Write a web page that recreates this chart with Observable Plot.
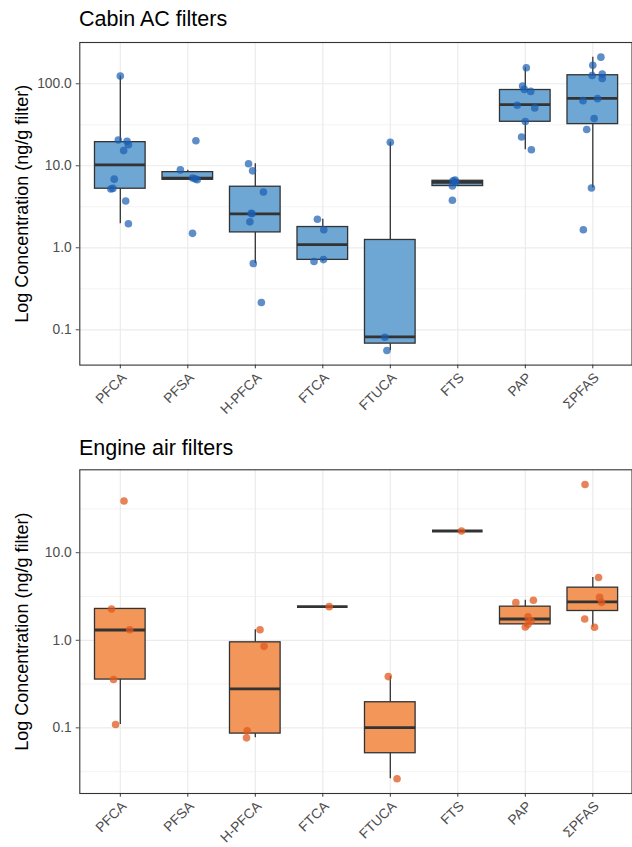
<!DOCTYPE html>
<html><head><meta charset="utf-8">
<script src="https://cdn.jsdelivr.net/npm/d3@7"></script>
<script src="https://cdn.jsdelivr.net/npm/@observablehq/plot@0.6"></script>
<style>
body{margin:0;background:#fff;font-family:"Liberation Sans",Arial,sans-serif;}
.title{height:32px;box-sizing:border-box;font-size:21.5px;line-height:21.5px;padding-left:79px;color:#000;white-space:nowrap;}
svg{display:block;}
</style></head><body>
<div id="chart"></div>
<script>
// ---- categories and tick labels ----
const categories = ["PFCA","PFSA","H-PFCA","FTCA","FTUCA","FTS","PAP","ΣPFAS"];
const yTicks = [0.1, 1, 10, 100];
const yMinorTicks = [0.0316, 0.316, 3.162, 31.62, 316.2];
const yLabel = "Log Concentration (ng/g filter)";

// ---- Cabin AC filters: points (ng/g filter) and jitter (category units) ----
const cabinValues = [
  [124, 20.6, 19.9, 18.1, 15.3, 6.87, 5.3, 5.2, 3.72, 1.96],
  [20.2, 8.9, 7.1, 6.93, 6.75, 1.5],
  [10.6, 8.67, 4.79, 2.64, 2.6, 2.07, 0.643, 0.215],
  [2.23, 1.66, 0.718, 0.679],
  [19.3, 0.081, 0.056],
  [6.7, 6.55, 6.3, 5.66, 3.79],
  [157, 93.8, 85.3, 80.7, 54.6, 50.8, 34.7, 22.4, 15.7],
  [211, 168, 131, 126, 116, 65.8, 62.2, 37.7, 27.7, 5.35, 1.66]
];
const cabinJitter = [
  [0, -0.03, 0.10, 0.12, 0.05, -0.09, -0.11, -0.14, 0.08, 0.12],
  [0.12, -0.11, 0.07, 0.11, 0.14, 0.07],
  [-0.10, -0.04, 0.12, -0.06, -0.05, -0.08, -0.03, 0.09],
  [-0.08, 0.015, 0.01, -0.13],
  [0, -0.08, -0.05],
  [-0.04, -0.07, -0.03, -0.08, -0.08],
  [0.015, -0.04, -0.015, 0.08, -0.12, 0.14, 0, -0.055, 0.09],
  [0.12, 0, 0.14, -0.01, 0.14, 0.07, -0.145, 0.02, -0.09, -0.02, -0.14]
];
// box statistics
const cabinQ1     = [5.25, 6.75, 1.54, 0.712, 0.0678, 5.66, 34.4, 32.2];
const cabinMedian = [10.26, 7.06, 2.59, 1.09, 0.082, 6.27, 55.7, 66.4];
const cabinQ3     = [19.4, 8.36, 5.55, 1.79, 1.245, 6.56, 83.9, 127];
const cabinLow    = [1.96, 6.75, 0.643, 0.679, 0.056, 5.66, 15.7, 5.35];
const cabinHigh   = [124, 8.84, 10.6, 2.23, 19.3, 6.64, 157, 211];

// ---- Engine air filters ----
const engineValues = [
  [39, 2.28, 1.32, 0.356, 0.109],
  [],
  [1.32, 0.853, 0.0925, 0.0769],
  [2.42],
  [0.385, 0.0262],
  [17.7],
  [2.86, 2.69, 1.85, 1.67, 1.52, 1.42],
  [60.1, 5.22, 3.09, 2.71, 1.75, 1.41]
];
const engineJitter = [
  [0.055, -0.13, 0.14, -0.10, -0.07],
  [],
  [0.07, 0.13, -0.12, -0.13],
  [0.095],
  [-0.03, 0.10],
  [0.055],
  [0.12, -0.14, 0.04, 0.085, 0.04, 0],
  [-0.115, 0.085, 0.10, 0.13, -0.12, 0.025]
];
const engineQ1     = [0.356, null, 0.086, 2.42, 0.0513, 17.7, 1.52, 2.16];
const engineMedian = [1.31, null, 0.279, 2.42, 0.1007, 17.7, 1.75, 2.74];
const engineQ3     = [2.28, null, 0.948, 2.42, 0.196, 17.7, 2.42, 3.99];
const engineLow    = [0.109, null, 0.0769, 2.42, 0.0262, 17.7, 1.42, 1.41];
const engineHigh   = [2.28, null, 1.32, 2.42, 0.385, 17.7, 2.86, 5.22];

const FONT = "'Liberation Sans', Arial, sans-serif";

function panel({values, jitter, q1, med, q3, lo, hi, boxFill, dotFill, dotOpacity, height, marginTop, marginBottom}) {
  const points = [];
  values.forEach((vs, i) => vs.forEach((v, j) => points.push({i, v, x: i + jitter[i][j]})));
  const boxes = categories.map((c, i) => ({i, c, q1: q1[i], med: med[i], q3: q3[i], lo: lo[i], hi: hi[i]}))
    .filter(d => d.med != null);
  const [mn, mx] = d3.extent(points, d => Math.log10(d.v));
  const pad = (mx - mn) * 0.05;
  const domain = [10 ** (mn - pad), 10 ** (mx + pad)];
  const inDom = t => t >= domain[0] && t <= domain[1];
  const half = 0.375;
  return Plot.plot({
    width: 632, height, marginTop, marginBottom, marginLeft: 79.3, marginRight: 0.5,
    style: {fontFamily: FONT, background: "#fff", overflow: "visible"},
    x: {type: "linear", domain: [-0.6, 7.6], range: [79.3, 632.8], axis: null},
    y: {type: "log", domain, axis: null},
    marks: [
      Plot.gridY(yMinorTicks.filter(inDom), {stroke: "#ebebeb", strokeOpacity: 1, strokeWidth: 0.6}),
      Plot.gridY(yTicks.filter(inDom), {stroke: "#ebebeb", strokeOpacity: 1, strokeWidth: 1.2}),
      Plot.gridX(d3.range(categories.length), {stroke: "#ebebeb", strokeOpacity: 1, strokeWidth: 1.2}),
      Plot.ruleX(boxes, {x: "i", y1: "lo", y2: "q1", stroke: "#333", strokeWidth: 1.3}),
      Plot.ruleX(boxes, {x: "i", y1: "q3", y2: "hi", stroke: "#333", strokeWidth: 1.3}),
      Plot.rect(boxes, {x1: d => d.i - half, x2: d => d.i + half, y1: "q1", y2: "q3", fill: boxFill, stroke: "#333", strokeWidth: 1.3}),
      Plot.ruleY(boxes, {y: "med", x1: d => d.i - half, x2: d => d.i + half, stroke: "#333", strokeWidth: 2.8}),
      Plot.dot(points, {x: "x", y: "v", r: 3.8, fill: dotFill, fillOpacity: dotOpacity, stroke: "none"}),
      Plot.frame({stroke: "#333", strokeWidth: 1.1}),
      Plot.axisY(yTicks.filter(inDom), {tickFormat: d3.format(".1f"), tickSize: 3.6, tickPadding: 4.5, fontSize: 13.8, color: "#4d4d4d", label: null}),
      Plot.axisX(d3.range(categories.length), {tickSize: 3.7, tickFormat: () => "", color: "#333", label: null}),
      Plot.text(categories, {x: (d, i) => i, text: d => d, frameAnchor: "bottom", dy: 6.5, rotate: -45, textAnchor: "end", lineAnchor: "top", fontSize: 13.8, fill: "#4d4d4d"}),
      Plot.text([yLabel], {text: d => d, frameAnchor: "left", dx: -57.3, rotate: -90, textAnchor: "middle", lineAnchor: "middle", fontSize: 18, fill: "#000"})
    ]
  });
}

const root = document.getElementById("chart");
function title(text, padTop) {
  const d = document.createElement("div");
  d.className = "title";
  d.style.paddingTop = padTop + "px";
  d.textContent = text;
  root.appendChild(d);
}
title("Cabin AC filters", 8.8);
root.appendChild(panel({values: cabinValues, jitter: cabinJitter, q1: cabinQ1, med: cabinMedian, q3: cabinQ3, lo: cabinLow, hi: cabinHigh,
  boxFill: "#6ea7d4", dotFill: "#1a5cb0", dotOpacity: 0.7, height: 396, marginTop: 10, marginBottom: 63.4}));
title("Engine air filters", 9.8);
root.appendChild(panel({values: engineValues, jitter: engineJitter, q1: engineQ1, med: engineMedian, q3: engineQ3, lo: engineLow, hi: engineHigh,
  boxFill: "#f3965a", dotFill: "#e05a20", dotOpacity: 0.75, height: 387, marginTop: 9.3, marginBottom: 54}));
</script>
</body></html>
